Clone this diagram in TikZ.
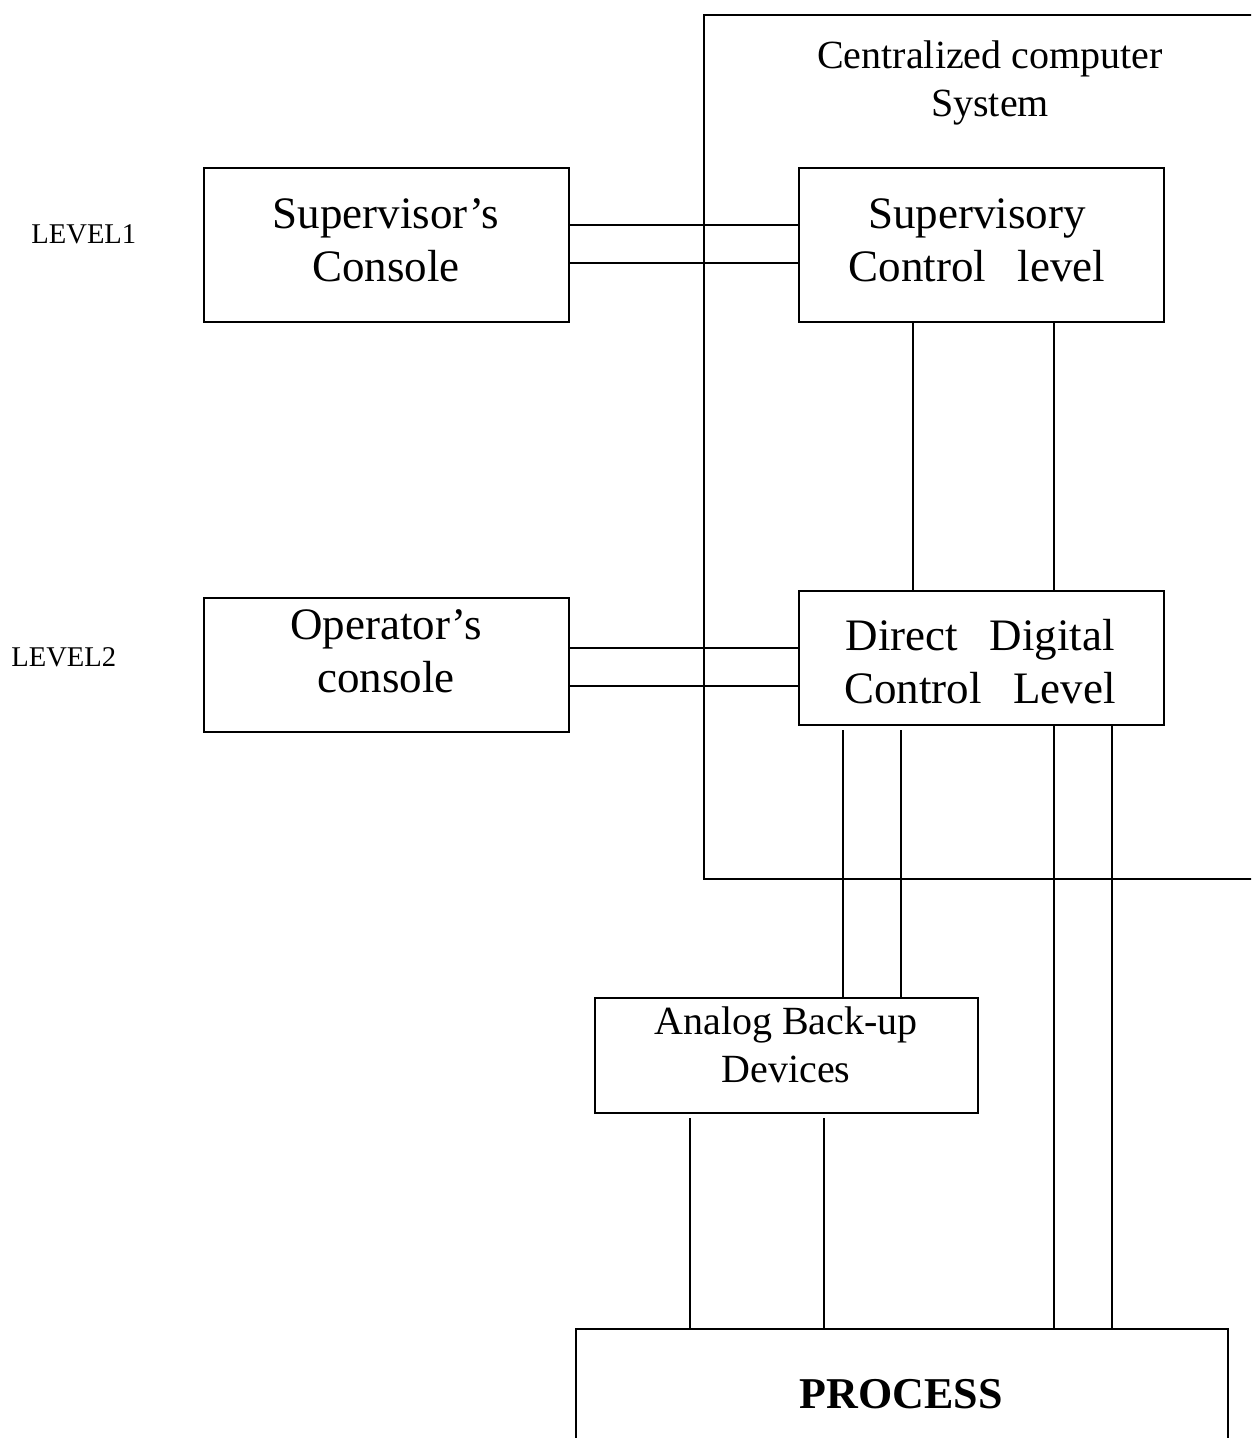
\documentclass[tikz,border=0pt]{standalone}
\usepackage{fontspec}
\setmainfont{Liberation Serif}
\usetikzlibrary{calc}
\begin{document}
\begin{tikzpicture}[x=0.5pt,y=-0.5pt,
  box/.style={draw,line width=1pt,inner sep=0pt,anchor=north west},
  big/.style={font=\fontsize{22.5}{26.5}\selectfont,align=center,inner sep=0pt},
  mid/.style={font=\fontsize{20}{24}\selectfont,align=center,inner sep=0pt},
  lvl/.style={font=\fontsize{14.3}{16}\selectfont,inner sep=0pt,anchor=west},
  conn/.style={line width=1pt}]
\useasboundingbox (0,0) rectangle (1251,1438);
\clip (0,0) rectangle (1251,1438);
% boxes
\node[box,minimum width=300pt,minimum height=432pt] (cs) at (703,14) {};
\node[box,minimum width=182.5pt,minimum height=77pt] (sc) at (203,167) {};
\node[box,minimum width=182.5pt,minimum height=77pt] (sv) at (798,167) {};
\node[box,minimum width=182.5pt,minimum height=67pt] (oc) at (203,597) {};
\node[box,minimum width=182.5pt,minimum height=67pt] (ddc) at (798,590) {};
\node[box,minimum width=191.5pt,minimum height=57.5pt] (ab) at (594,997) {};
\node[box,minimum width=326pt,minimum height=120pt] (proc) at (575,1328) {};
% texts
\node[mid] (cst) at (990,83) {Centralized computer\\System};
\node[lvl] (l1) at (31,234) {LEVEL1};
\node[lvl] (l2) at (11,657) {LEVEL2};
\node[big] (sct) at (386,240) {Supervisor’s\\Console};
\node[big] (svt) at (977,240) {Supervisory\\Control\hspace{0.45em} level};
\node[big] (oct) at (386,651) {Operator’s\\console};
\node[big] (ddct) at (980,662) {Direct\hspace{0.45em} Digital\\Control\hspace{0.45em} Level};
\node[mid] (abt) at (786,1045) {Analog Back-up\\Devices};
\node[font=\fontsize{22}{26}\selectfont\bfseries,inner sep=0pt] (proct) at (901,1394) {PROCESS};
% connectors
\draw[conn] (sc.east |- 0,225) -- (sv.west |- 0,225);
\draw[conn] (sc.east |- 0,263) -- (sv.west |- 0,263);
\draw[conn] (sv.south -| 913,0) -- (ddc.north -| 913,0);
\draw[conn] (sv.south -| 1054,0) -- (ddc.north -| 1054,0);
\draw[conn] (oc.east |- 0,648) -- (ddc.west |- 0,648);
\draw[conn] (oc.east |- 0,686) -- (ddc.west |- 0,686);
\draw[conn] ($(ddc.south -| 843,0)+(0,4)$) -- (ab.north -| 843,0);
\draw[conn] ($(ddc.south -| 901,0)+(0,4)$) -- (ab.north -| 901,0);
\draw[conn] (ddc.south -| 1054,0) -- (proc.north -| 1054,0);
\draw[conn] (ddc.south -| 1112,0) -- (proc.north -| 1112,0);
\draw[conn] ($(ab.south -| 690,0)+(0,4)$) -- (proc.north -| 690,0);
\draw[conn] ($(ab.south -| 824,0)+(0,4)$) -- (proc.north -| 824,0);
\end{tikzpicture}
\end{document}
